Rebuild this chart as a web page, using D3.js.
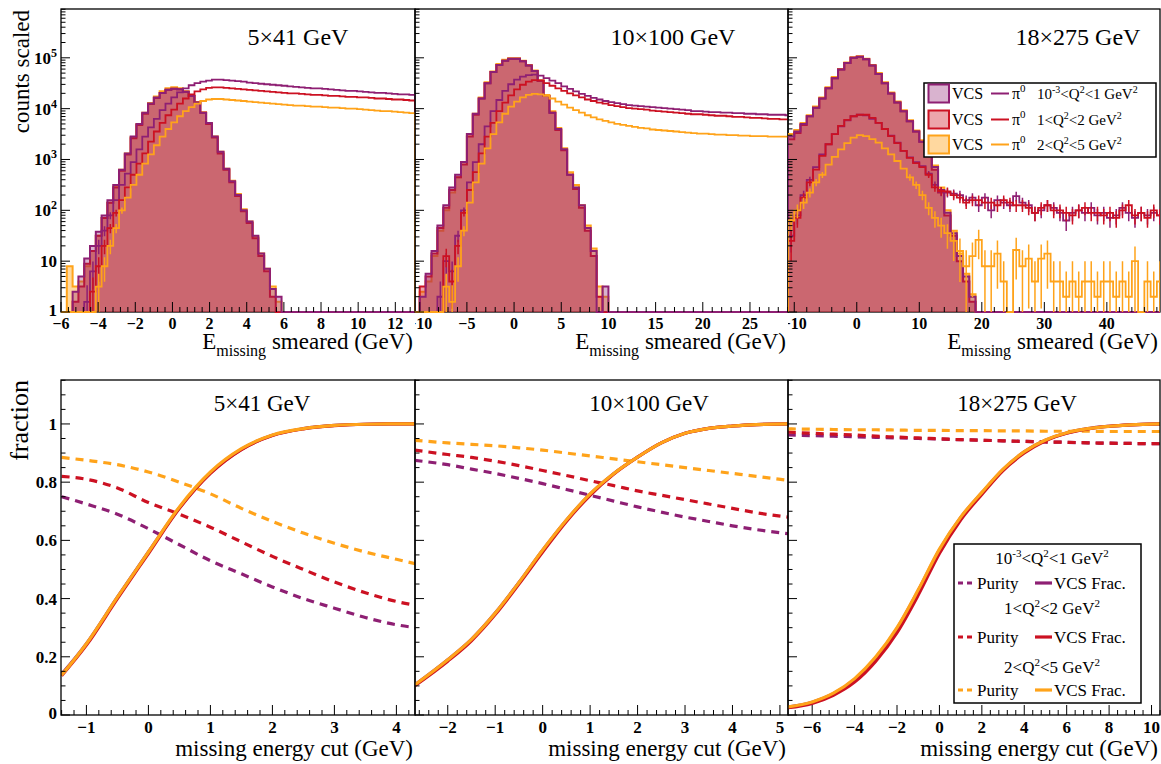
<!DOCTYPE html>
<html>
<head>
<meta charset="utf-8">
<script src="https://cdn.jsdelivr.net/npm/d3@7"></script>
<style>
body { margin: 0; background: #fff; }
svg { display: block; }
text { font-family: "Liberation Serif", "Times New Roman", serif; fill: #000; }
</style>
</head>
<body>
<div id="chart"></div>
<script>
var width = 1161, height = 764;

// ---- labels ----
var beamLabels = ["5\u00d741 GeV", "10\u00d7100 GeV", "18\u00d7275 GeV"];

// ---- top row: histogram binning (start, width) per beam energy ----
var binStart = [-6, -10, -11];
var binWidth = [0.3125, 0.625, 1];
// events per scaled count, used for the pi0 statistical error bars
var eventScale = [2, 2, 9];

// ---- top row: log10(counts) per bin (null = empty bin) ----
// 5x41
var vcsQ1_5x41 = [null,null,0.4,0.7,1.05,1.3,1.58,1.9,2.2,2.5,2.8,3.12,3.45,3.7,3.92,4.1,4.22,4.31,4.37,4.39,4.38,4.33,4.25,4.12,3.92,3.72,3.45,3.15,2.82,2.57,2.3,2.0,1.78,1.5,1.15,0.85,0.45,0.3];
var vcsQ2_5x41 = [null,null,0.2,0.5,0.95,1.2,1.5,1.85,2.15,2.45,2.78,3.1,3.42,3.68,3.9,4.09,4.21,4.31,4.37,4.39,4.38,4.33,4.25,4.12,3.92,3.7,3.43,3.12,2.8,2.55,2.28,1.98,1.75,1.45,1.1,0.8,0.3,null];
var vcsQ3_5x41 = [null,0.9,0.5,0.6,0.9,1.2,1.5,1.85,2.15,2.47,2.8,3.12,3.44,3.7,3.92,4.11,4.24,4.34,4.4,4.42,4.4,4.34,4.26,4.13,3.93,3.72,3.45,3.15,2.82,2.58,2.32,2.02,1.78,1.48,1.15,0.85,0.5,0.2];
var pi0Q1_5x41 = [null,null,null,null,0.2,0.8,1.3,1.6,1.9,2.2,2.5,2.72,2.95,3.2,3.45,3.63,3.8,3.97,4.1,4.22,4.32,4.4,4.46,4.5,4.53,4.55,4.57,4.57,4.56,4.55,4.54,4.53,4.51,4.5,4.49,4.48,4.47,4.46,4.45,4.44,4.43,4.42,4.41,4.4,4.4,4.39,4.38,4.37,4.36,4.35,4.35,4.34,4.33,4.32,4.31,4.31,4.3,4.29,4.28,4.28,4.27];
var pi0Q2_5x41 = [null,null,null,null,null,0.4,0.9,1.3,1.65,1.95,2.2,2.45,2.7,2.92,3.12,3.35,3.55,3.72,3.87,3.98,4.1,4.2,4.28,4.34,4.38,4.41,4.42,4.42,4.41,4.4,4.39,4.38,4.37,4.36,4.35,4.34,4.33,4.32,4.31,4.3,4.3,4.29,4.28,4.27,4.27,4.26,4.25,4.25,4.24,4.23,4.23,4.22,4.22,4.21,4.2,4.2,4.19,4.18,4.18,4.17,4.16];
var pi0Q3_5x41 = [null,null,null,null,null,null,0.5,0.9,1.3,1.65,2.0,2.25,2.5,2.7,2.92,3.1,3.28,3.45,3.6,3.73,3.85,3.95,4.03,4.1,4.15,4.18,4.19,4.19,4.18,4.17,4.16,4.15,4.14,4.13,4.12,4.11,4.1,4.09,4.08,4.07,4.06,4.06,4.05,4.04,4.04,4.03,4.02,4.02,4.01,4.0,4.0,3.99,3.98,3.97,3.96,3.95,3.95,3.94,3.93,3.92,3.91];
// 10x100
var vcsQ1_10x100 = [0.3,0.75,1.2,1.7,2.1,2.45,2.7,2.95,3.5,3.9,4.2,4.5,4.72,4.86,4.94,4.98,4.98,4.93,4.85,4.74,4.55,4.25,3.92,3.6,3.2,2.7,2.45,2.1,1.65,1.2,null,0.5];
var vcsQ2_10x100 = [0.5,0.7,1.15,1.65,2.05,2.4,2.65,2.9,3.45,3.88,4.2,4.5,4.72,4.86,4.94,4.98,4.98,4.93,4.85,4.74,4.55,4.25,3.92,3.58,3.18,2.7,2.42,2.05,1.6,1.1,0.3,null];
var vcsQ3_10x100 = [0.4,0.6,1.1,1.6,2.0,2.35,2.65,2.95,3.5,3.9,4.22,4.52,4.73,4.88,4.96,4.99,4.99,4.94,4.86,4.75,4.56,4.27,3.95,3.62,3.22,2.75,2.5,2.1,1.7,1.25,0.5,0.3];
var pi0Q1_10x100 = [null,null,null,0.3,1.0,0.8,1.5,2.0,2.55,2.95,3.3,3.65,3.95,4.17,4.35,4.48,4.57,4.63,4.66,4.67,4.65,4.6,4.55,4.5,4.44,4.39,4.34,4.29,4.25,4.21,4.18,4.15,4.13,4.11,4.09,4.07,4.06,4.05,4.04,4.03,4.02,4.01,4.0,3.99,3.98,3.97,3.95,3.95,3.94,3.93,3.93,3.92,3.92,3.91,3.91,3.9,3.9,3.89,3.89,3.88,3.88,3.88,3.87];
var pi0Q2_10x100 = [null,null,null,null,1.1,0.6,1.3,1.95,2.4,2.75,3.12,3.45,3.72,3.95,4.12,4.26,4.38,4.47,4.53,4.56,4.55,4.5,4.45,4.4,4.35,4.3,4.26,4.22,4.18,4.15,4.12,4.1,4.07,4.05,4.03,4.01,4.0,3.99,3.98,3.96,3.95,3.94,3.93,3.92,3.91,3.9,3.89,3.89,3.88,3.87,3.86,3.86,3.85,3.84,3.84,3.83,3.82,3.82,3.81,3.8,3.8,3.79,3.79];
var pi0Q3_10x100 = [null,null,null,null,0.5,0.2,0.9,1.6,2.15,2.55,2.92,3.22,3.5,3.73,3.9,4.04,4.14,4.22,4.27,4.29,4.28,4.25,4.2,4.14,4.08,4.02,3.97,3.92,3.87,3.83,3.79,3.76,3.73,3.7,3.68,3.66,3.64,3.62,3.61,3.59,3.58,3.57,3.56,3.55,3.54,3.53,3.52,3.51,3.51,3.5,3.49,3.49,3.48,3.48,3.47,3.47,3.46,3.46,3.46,3.45,3.45,3.45,3.45];
// 18x275
var vcsQ1_18x275 = [3.45,3.55,3.7,3.85,4.02,4.2,4.4,4.6,4.77,4.9,5.0,5.02,4.97,4.85,4.68,4.5,4.3,4.12,3.95,3.75,3.55,3.35,3.12,2.85,2.4,1.95,1.55,1.1,0.7,0.3];
var vcsQ2_18x275 = [3.4,3.52,3.68,3.85,4.02,4.2,4.4,4.6,4.77,4.9,5.0,5.02,4.97,4.85,4.68,4.5,4.3,4.12,3.95,3.75,3.55,3.35,3.1,2.8,2.35,1.9,1.5,1.0,0.6,0.2];
var vcsQ3_18x275 = [3.5,3.58,3.72,3.87,4.04,4.22,4.42,4.62,4.78,4.91,5.01,5.03,4.98,4.86,4.7,4.52,4.32,4.14,3.97,3.77,3.57,3.38,3.15,2.88,2.45,2.0,1.6,1.15,0.75,0.35];
var pi0Q1_18x275 = [1.5,1.9,2.3,2.6,2.85,3.1,3.3,3.5,3.65,3.77,3.85,3.88,3.87,3.8,3.72,3.6,3.47,3.33,3.17,3.04,2.95,2.87,2.72,2.5,2.37,2.35,2.33,2.3,2.2,2.25,2.1,2.25,2.0,2.2,2.15,2.1,2.28,2.15,2.1,1.95,2.0,2.1,2.05,1.95,1.8,1.95,2.0,1.95,2.05,1.9,1.95,1.85,1.9,2.05,1.95,1.85,1.95,1.9,1.95,1.9];
var pi0Q2_18x275 = [1.4,1.85,2.25,2.55,2.8,3.07,3.3,3.5,3.66,3.78,3.85,3.88,3.88,3.82,3.72,3.6,3.46,3.32,3.17,3.03,2.93,2.85,2.7,2.45,2.38,2.37,2.3,2.25,2.15,2.2,2.2,2.15,2.15,2.1,2.2,2.15,2.1,2.1,2.05,1.95,2.05,2.1,2.0,2.0,1.95,1.9,2.0,2.05,1.95,1.95,1.9,1.95,1.85,2.0,2.1,1.9,1.95,1.85,2.0,1.9];
var pi0Q3_18x275 = [1.8,2.0,2.15,2.35,2.55,2.7,2.9,3.05,3.2,3.32,3.43,3.48,3.46,3.4,3.33,3.22,3.1,2.97,2.82,2.65,2.5,2.3,2.05,1.85,1.7,1.55,1.4,1.2,0.9,1.1,1.42,0.9,0.9,1.15,0.6,0,1.22,0.9,1.05,0.6,1.05,1.15,0.6,0.6,0.3,0.6,0.3,0.6,0.6,0.3,0.6,0.6,0.3,0.6,0.3,1.0,0,0.6,0.3,0.6];

// ---- bottom row: missing energy cut scan ----
var cut_5x41 = [-1.4,-1,-0.5,0,0.5,1,1.5,2,2.5,3,3.5,4,4.3];
var fracQ1_5x41 = [0.14,0.245,0.405,0.56,0.712,0.832,0.913,0.961,0.984,0.995,0.999,1.0,1.0];
var fracQ2_5x41 = [0.135,0.24,0.4,0.555,0.71,0.83,0.912,0.96,0.983,0.994,0.999,1.0,1.0];
var fracQ3_5x41 = [0.137,0.245,0.405,0.56,0.715,0.835,0.915,0.962,0.984,0.995,0.999,1.0,1.0];
var purQ1_5x41 = [0.75,0.725,0.69,0.64,0.585,0.53,0.485,0.44,0.4,0.367,0.335,0.31,0.3];
var purQ2_5x41 = [0.82,0.81,0.78,0.73,0.69,0.645,0.595,0.545,0.5,0.457,0.42,0.39,0.377];
var purQ3_5x41 = [0.885,0.875,0.86,0.835,0.8,0.76,0.71,0.665,0.625,0.59,0.56,0.535,0.52];

var cut_10x100 = [-2.7,-2,-1.5,-1,-0.5,0,0.5,1,1.5,2,2.5,3,3.5,4,4.5,5.17];
var fracQ1_10x100 = [0.103,0.19,0.26,0.35,0.455,0.566,0.669,0.759,0.83,0.886,0.935,0.968,0.985,0.993,0.998,1.0];
var fracQ2_10x100 = [0.1,0.185,0.255,0.345,0.45,0.56,0.665,0.755,0.828,0.886,0.935,0.968,0.985,0.993,0.998,1.0];
var fracQ3_10x100 = [0.103,0.19,0.26,0.35,0.455,0.567,0.67,0.76,0.83,0.886,0.935,0.968,0.985,0.993,0.998,1.0];
var purQ1_10x100 = [0.875,0.86,0.845,0.83,0.813,0.795,0.775,0.755,0.735,0.715,0.697,0.68,0.665,0.65,0.637,0.623];
var purQ2_10x100 = [0.91,0.895,0.885,0.872,0.857,0.84,0.823,0.805,0.788,0.77,0.755,0.74,0.725,0.71,0.695,0.68];
var purQ3_10x100 = [0.944,0.935,0.93,0.925,0.918,0.91,0.9,0.89,0.88,0.87,0.86,0.85,0.84,0.83,0.82,0.806];

var cut_18x275 = [-7.15,-6,-5,-4,-3,-2,-1,0,1,2,3,4,5,6,7,8,9,10.4];
var fracQ1_18x275 = [0.027,0.044,0.073,0.122,0.197,0.297,0.427,0.567,0.678,0.763,0.843,0.904,0.944,0.969,0.984,0.992,0.997,1.0];
var fracQ2_18x275 = [0.025,0.04,0.068,0.113,0.185,0.283,0.412,0.555,0.67,0.758,0.84,0.9,0.942,0.968,0.983,0.992,0.997,1.0];
var fracQ3_18x275 = [0.028,0.045,0.075,0.125,0.2,0.3,0.43,0.57,0.68,0.765,0.845,0.905,0.945,0.97,0.984,0.992,0.997,1.0];
var purQ1_18x275 = [0.962,0.96,0.958,0.956,0.954,0.952,0.95,0.948,0.946,0.944,0.942,0.94,0.938,0.937,0.935,0.934,0.933,0.932];
var purQ2_18x275 = [0.972,0.968,0.965,0.962,0.958,0.955,0.952,0.949,0.946,0.944,0.942,0.94,0.938,0.937,0.935,0.934,0.933,0.932];
var purQ3_18x275 = [0.983,0.982,0.981,0.98,0.98,0.979,0.978,0.978,0.977,0.977,0.976,0.976,0.975,0.975,0.975,0.974,0.974,0.974];

// ---- colours: Q2 bins 1,2,3 ----
var lineColors = ["#8e1f73", "#cc1122", "#ffa31a"];
var fillOpacity = [0.34, 0.38, 0.42];

// ---- layout ----
var padX = [[61,415],[415,788],[788,1160]];
var padEdges = [[0,415],[415,788],[788,1161]];
var topY = [9, 312], botY = [380, 715];
var topDomains = [[-6,13.06],[-10.5,29.03],[-11,48.5]];
var botDomains = [[-1.41,4.3],[-2.69,5.17],[-7.14,10.4]];
var topMajor = [2,5,10], topMinor = [0.4,1,2];
var botMajor = [1,1,2], botMinor = [0.2,0.2,0.4];
var titleTopX = [298, 673, 1078], titleBotX = [262, 649, 1017];

var topHist = [
  {vcs:[vcsQ1_5x41,vcsQ2_5x41,vcsQ3_5x41], pi0:[pi0Q1_5x41,pi0Q2_5x41,pi0Q3_5x41]},
  {vcs:[vcsQ1_10x100,vcsQ2_10x100,vcsQ3_10x100], pi0:[pi0Q1_10x100,pi0Q2_10x100,pi0Q3_10x100]},
  {vcs:[vcsQ1_18x275,vcsQ2_18x275,vcsQ3_18x275], pi0:[pi0Q1_18x275,pi0Q2_18x275,pi0Q3_18x275]}
];
var botCurves = [
  {x:cut_5x41, frac:[fracQ1_5x41,fracQ2_5x41,fracQ3_5x41], pur:[purQ1_5x41,purQ2_5x41,purQ3_5x41]},
  {x:cut_10x100, frac:[fracQ1_10x100,fracQ2_10x100,fracQ3_10x100], pur:[purQ1_10x100,purQ2_10x100,purQ3_10x100]},
  {x:cut_18x275, frac:[fracQ1_18x275,fracQ2_18x275,fracQ3_18x275], pur:[purQ1_18x275,purQ2_18x275,purQ3_18x275]}
];

var svg = d3.select("#chart").append("svg").attr("width", width).attr("height", height)
  .attr("font-family", "'Liberation Serif', 'Times New Roman', serif");
var defs = svg.append("defs");

function rich(sel, parts) {
  // parts: [text, baseline shift px (negative = up), font size px]
  var cur = 0;
  parts.forEach(function(p) {
    sel.append("tspan").attr("dy", p[1] - cur).style("font-size", p[2] + "px").text(p[0]);
    cur = p[1];
  });
  return sel;
}

function ticksOf(d, step) {
  var out = [];
  var s = Math.ceil(d[0] / step - 1e-6);
  for (var k = s; k * step <= d[1] + 1e-6; k++) out.push(Math.round(k * step * 1000) / 1000);
  return out;
}

function fmt(v) { return v < 0 ? "\u2212" + Math.abs(v) : String(v); }

function histPath(vals, start, w, x, y) {
  var base = y.range()[0];
  var p = "M" + x.range()[0] + "," + base + "H" + x(start);
  vals.forEach(function(v, i) {
    var yy = (v == null || v <= 0) ? base : y(Math.pow(10, v));
    p += "V" + yy + "H" + x(start + (i + 1) * w);
  });
  p += "V" + base + "H" + x.range()[1];
  return p;
}

function xTicks(g, x, yb, d, major, minor) {
  ticksOf(d, minor).forEach(function(t) {
    var isMaj = Math.abs(t / major - Math.round(t / major)) < 1e-6;
    g.append("line").attr("x1", x(t)).attr("x2", x(t)).attr("y1", yb).attr("y2", yb - (isMaj ? 10 : 5))
      .attr("stroke", "#000").attr("stroke-width", 1);
  });
}

function padClip(id, i, y0, y1) {
  defs.append("clipPath").attr("id", id).append("rect")
    .attr("x", padEdges[i][0]).attr("y", y0).attr("width", padEdges[i][1] - padEdges[i][0]).attr("height", y1 - y0);
}

// ================= TOP ROW =================
var yTop = d3.scaleLog().domain([1, Math.pow(10, 5.96)]).range([topY[1], topY[0]]);

for (var i = 0; i < 3; i++) {
  var x = d3.scaleLinear().domain(topDomains[i]).range(padX[i]);
  defs.append("clipPath").attr("id", "ct" + i).append("rect")
    .attr("x", padX[i][0]).attr("y", topY[0]).attr("width", padX[i][1] - padX[i][0]).attr("height", topY[1] - topY[0] + 1.5);
  padClip("lt" + i, i, 0, 362);

  svg.append("rect").attr("x", padX[i][0]).attr("y", topY[0])
    .attr("width", padX[i][1] - padX[i][0]).attr("height", topY[1] - topY[0])
    .attr("fill", "none").attr("stroke", "#000").attr("stroke-width", 1.3);

  var g = svg.append("g").attr("clip-path", "url(#ct" + i + ")");
  // VCS filled histograms, drawn orange, red, purple
  [2, 1, 0].forEach(function(q) {
    var path = histPath(topHist[i].vcs[q], binStart[i], binWidth[i], x, yTop);
    g.append("path").attr("d", path + "Z").attr("fill", lineColors[q]).attr("fill-opacity", fillOpacity[q]).attr("stroke", "none");
    g.append("path").attr("d", path).attr("fill", "none").attr("stroke", lineColors[q]).attr("stroke-width", 2);
  });
  // pi0 histograms with statistical error bars
  [0, 1, 2].forEach(function(q) {
    var vals = topHist[i].pi0[q];
    g.append("path").attr("d", histPath(vals, binStart[i], binWidth[i], x, yTop))
      .attr("fill", "none").attr("stroke", lineColors[q]).attr("stroke-width", 1.8);
    vals.forEach(function(v, k) {
      if (v == null || v <= 0) return;
      var c = Math.pow(10, v), rel = 1 / Math.sqrt(c / eventScale[i]);
      if (rel < 0.12) return;
      var cx = x(binStart[i] + (k + 0.5) * binWidth[i]);
      var lo = c * (1 - rel);
      g.append("line").attr("x1", cx).attr("x2", cx)
        .attr("y1", lo < 1 ? topY[1] : yTop(lo)).attr("y2", yTop(c * (1 + rel)))
        .attr("stroke", lineColors[q]).attr("stroke-width", 1.5);
    });
  });

  // ticks
  var ta = svg.append("g");
  xTicks(ta, x, topY[1], topDomains[i], topMajor[i], topMinor[i]);
  for (var e = 0; e <= 5; e++) {
    for (var m = 1; m <= 9; m++) {
      var v = m * Math.pow(10, e);
      if (v > yTop.domain()[1]) break;
      ta.append("line").attr("x1", padX[i][0]).attr("x2", padX[i][0] + (m === 1 ? 9 : 4.5))
        .attr("y1", yTop(v)).attr("y2", yTop(v)).attr("stroke", "#000").attr("stroke-width", 1);
    }
  }

  // tick labels, clipped to the pad
  var lab = svg.append("g").attr("clip-path", "url(#lt" + i + ")");
  ticksOf(topDomains[i], topMajor[i]).forEach(function(t) {
    lab.append("text").attr("x", x(t)).attr("y", 329).attr("text-anchor", "middle")
      .style("font-size", "16px").style("font-weight", "bold").text(fmt(t));
  });
  if (i === 0) {
    for (var e2 = 0; e2 <= 5; e2++) {
      var tx = lab.append("text").attr("x", 57).attr("y", yTop(Math.pow(10, e2)) + (e2 === 0 ? 4 : 6))
        .attr("text-anchor", "end").style("font-weight", "bold");
      if (e2 === 0) rich(tx, [["1", 0, 17]]);
      else if (e2 === 1) rich(tx, [["10", 0, 17]]);
      else rich(tx, [["10", 0, 17], [String(e2), -7, 12]]);
    }
  }

  svg.append("text").attr("x", titleTopX[i]).attr("y", 45).attr("text-anchor", "middle")
    .style("font-size", "24px").text(beamLabels[i]);
  var xt = svg.append("text").attr("x", padX[i][1] - 2).attr("y", 349).attr("text-anchor", "end");
  rich(xt, [["E", 0, 23], ["missing", 7, 16], [" smeared (GeV)", 0, 23]]);
}

svg.append("text").attr("transform", "translate(29,10) rotate(-90)").attr("text-anchor", "end")
  .style("font-size", "23px").text("counts scaled");

// top legend
var lg = svg.append("g");
lg.append("rect").attr("x", 924).attr("y", 83).attr("width", 232).attr("height", 74)
  .attr("fill", "#fff").attr("stroke", "#000").attr("stroke-width", 1.5);
var q2TopParts = [
  [["10", 0, 15], ["-3", -6, 10], ["<Q", 0, 15], ["2", -6, 10], ["<1 GeV", 0, 15], ["2", -6, 10]],
  [["1<Q", 0, 15], ["2", -6, 10], ["<2 GeV", 0, 15], ["2", -6, 10]],
  [["2<Q", 0, 15], ["2", -6, 10], ["<5 GeV", 0, 15], ["2", -6, 10]]
];
var rowsTop = [93.5, 119.5, 144.5];
[0, 1, 2].forEach(function(q) {
  var cy = rowsTop[q];
  lg.append("rect").attr("x", 928.5).attr("y", cy - 9).attr("width", 20.5).attr("height", 18)
    .attr("fill", d3.interpolateRgb("#fff", lineColors[q])(fillOpacity[q]))
    .attr("stroke", lineColors[q]).attr("stroke-width", 2);
  lg.append("text").attr("x", 952).attr("y", cy + 5.5).style("font-size", "16px").text("VCS");
  lg.append("line").attr("x1", 991).attr("x2", 1009).attr("y1", cy).attr("y2", cy)
    .attr("stroke", lineColors[q]).attr("stroke-width", 2);
  rich(lg.append("text").attr("x", 1012).attr("y", cy + 5.5), [["\u03c0", 0, 16], ["0", -7, 11]]);
  rich(lg.append("text").attr("x", 1037).attr("y", cy + 5.5), q2TopParts[q]);
});

// ================= BOTTOM ROW =================
var yBot = d3.scaleLinear().domain([0, 1.151]).range([botY[1], botY[0]]);

for (var j = 0; j < 3; j++) {
  var xb = d3.scaleLinear().domain(botDomains[j]).range(padX[j]);
  defs.append("clipPath").attr("id", "cb" + j).append("rect")
    .attr("x", padX[j][0]).attr("y", botY[0]).attr("width", padX[j][1] - padX[j][0]).attr("height", botY[1] - botY[0]);
  padClip("lb" + j, j, 362, 764);

  var gb = svg.append("g").attr("clip-path", "url(#cb" + j + ")");
  var cv = botCurves[j];
  [0, 1, 2].forEach(function(q) {
    var line = d3.line().x(function(d, k) { return xb(cv.x[k]); }).y(function(d) { return yBot(d); }).curve(d3.curveMonotoneX);
    gb.append("path").attr("d", line(cv.pur[q])).attr("fill", "none").attr("stroke", lineColors[q])
      .attr("stroke-width", 3.2).attr("stroke-dasharray", "8,6");
  });
  [0, 1, 2].forEach(function(q) {
    var line = d3.line().x(function(d, k) { return xb(cv.x[k]); }).y(function(d) { return yBot(d); }).curve(d3.curveMonotoneX);
    gb.append("path").attr("d", line(cv.frac[q])).attr("fill", "none").attr("stroke", lineColors[q])
      .attr("stroke-width", 3.2);
  });

  svg.append("rect").attr("x", padX[j][0]).attr("y", botY[0])
    .attr("width", padX[j][1] - padX[j][0]).attr("height", botY[1] - botY[0])
    .attr("fill", "none").attr("stroke", "#000").attr("stroke-width", 1.3);

  var tb = svg.append("g");
  xTicks(tb, xb, botY[1], botDomains[j], botMajor[j], botMinor[j]);
  ticksOf([0, 1.15], 0.05).forEach(function(t) {
    var maj = Math.abs(t / 0.2 - Math.round(t / 0.2)) < 1e-6;
    tb.append("line").attr("x1", padX[j][0]).attr("x2", padX[j][0] + (maj ? 9 : 4.5))
      .attr("y1", yBot(t)).attr("y2", yBot(t)).attr("stroke", "#000").attr("stroke-width", 1);
  });

  var lb = svg.append("g").attr("clip-path", "url(#lb" + j + ")");
  ticksOf(botDomains[j], botMajor[j]).forEach(function(t) {
    lb.append("text").attr("x", xb(t)).attr("y", 733).attr("text-anchor", "middle")
      .style("font-size", "17px").style("font-weight", "bold").text(fmt(t));
  });
  if (j === 0) {
    [0, 0.2, 0.4, 0.6, 0.8, 1].forEach(function(t) {
      lb.append("text").attr("x", 57).attr("y", yBot(t) + (t === 0 ? 4 : 6)).attr("text-anchor", "end")
        .style("font-size", "17px").style("font-weight", "bold").text(String(t));
    });
  }

  svg.append("text").attr("x", titleBotX[j]).attr("y", 411).attr("text-anchor", "middle")
    .style("font-size", "23px").text(beamLabels[j]);
  svg.append("text").attr("x", padX[j][1] - 2).attr("y", 756).attr("text-anchor", "end")
    .style("font-size", "23px").text("missing energy cut (GeV)");
}

svg.append("text").attr("transform", "translate(28,380) rotate(-90)").attr("text-anchor", "end")
  .style("font-size", "26px").text("fraction");

// bottom legend
var lb2 = svg.append("g");
lb2.append("rect").attr("x", 954).attr("y", 544).attr("width", 187).attr("height", 159)
  .attr("fill", "#fff").attr("stroke", "#000").attr("stroke-width", 1.5);
var q2BotParts = [
  [["10", 0, 17], ["-3", -7, 11], ["<Q", 0, 17], ["2", -7, 11], ["<1 GeV", 0, 17], ["2", -7, 11]],
  [["1<Q", 0, 17], ["2", -7, 11], ["<2 GeV", 0, 17], ["2", -7, 11]],
  [["2<Q", 0, 17], ["2", -7, 11], ["<5 GeV", 0, 17], ["2", -7, 11]]
];
var legTitleY = [564, 614, 673], legRowY = [583, 637, 690];
[0, 1, 2].forEach(function(q) {
  rich(lb2.append("text").attr("x", 1052).attr("y", legTitleY[q]).attr("text-anchor", "middle"), q2BotParts[q]);
  var cy = legRowY[q];
  lb2.append("line").attr("x1", 958).attr("x2", 975).attr("y1", cy).attr("y2", cy)
    .attr("stroke", lineColors[q]).attr("stroke-width", 3.2).attr("stroke-dasharray", "5,4");
  lb2.append("text").attr("x", 977).attr("y", cy + 6).style("font-size", "17px").text("Purity");
  lb2.append("line").attr("x1", 1035).attr("x2", 1052).attr("y1", cy).attr("y2", cy)
    .attr("stroke", lineColors[q]).attr("stroke-width", 3.2);
  lb2.append("text").attr("x", 1054).attr("y", cy + 6).style("font-size", "17px").text("VCS Frac.");
});
</script>
</body>
</html>
